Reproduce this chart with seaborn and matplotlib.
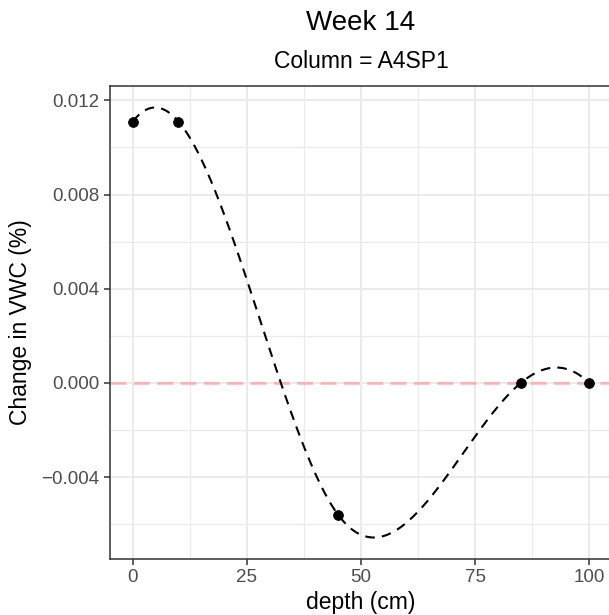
import numpy as np
import pandas as pd
import seaborn as sns
import matplotlib
matplotlib.use("Agg")
import matplotlib.pyplot as plt
from matplotlib.ticker import FixedLocator

####### Data #######
depth = [0, 10, 45, 85, 100]
vwc_change = [0.0111, 0.0111, -0.0056, 0.0, 0.0]

x_ticks = [0, 25, 50, 75, 100]
x_minor = [12.5, 37.5, 62.5, 87.5]
y_ticks = [-0.004, 0.000, 0.004, 0.008, 0.012]
y_minor = [-0.006, -0.002, 0.002, 0.006, 0.010]

title = "Week 14"
subtitle = "Column = A4SP1"


# Spline through the points (fmm end conditions, like R's spline())
def dd3(xs, ys):
    d = list(ys)
    for k in range(1, 4):
        d = [(d[i + 1] - d[i]) / (xs[i + k] - xs[i]) for i in range(len(d) - 1)]
    return d[0]


def fmm_spline(x, y, xout):
    x = np.asarray(x, float)
    y = np.asarray(y, float)
    n = len(x)
    h = np.diff(x)
    d = np.diff(y) / h
    A = np.zeros((n, n))
    b = np.zeros(n)
    for i in range(1, n - 1):
        A[i, i - 1] = h[i - 1]
        A[i, i] = 2 * (h[i - 1] + h[i])
        A[i, i + 1] = h[i]
        b[i] = 6 * (d[i] - d[i - 1])
    A[0, 0], A[0, 1] = -1 / h[0], 1 / h[0]
    b[0] = 6 * dd3(x[:4], y[:4])
    A[-1, -2], A[-1, -1] = -1 / h[-1], 1 / h[-1]
    b[-1] = 6 * dd3(x[-4:], y[-4:])
    M = np.linalg.solve(A, b)
    idx = np.clip(np.searchsorted(x, xout) - 1, 0, n - 2)
    hi = h[idx]
    a = x[idx + 1] - xout
    c = xout - x[idx]
    return (M[idx] * a**3 / (6 * hi) + M[idx + 1] * c**3 / (6 * hi)
            + (y[idx] / hi - M[idx] * hi / 6) * a
            + (y[idx + 1] / hi - M[idx + 1] * hi / 6) * c)


pts = pd.DataFrame({"depth": depth, "change": vwc_change})
xs = np.linspace(min(depth), max(depth), 400)
curve = pd.DataFrame({"depth": xs, "change": fmm_spline(depth, vwc_change, xs)})

####### Plot #######
sns.set_theme(style="white")
plt.rcParams["font.family"] = ["Liberation Sans", "DejaVu Sans"]

fig = plt.figure(figsize=(6.09, 6.15), dpi=100)
ax = fig.add_axes([110 / 609, 56 / 615, 502 / 609, 473 / 615])

ax.axhline(0, color="red", alpha=0.22, linewidth=2.4, linestyle=(0, (4.8, 2.2)), zorder=2)
sns.lineplot(data=curve, x="depth", y="change", ax=ax, color="black",
             linewidth=1.5, linestyle=(0, (4.6, 3.4)), zorder=3)
sns.scatterplot(data=pts, x="depth", y="change", ax=ax, color="black",
                s=50, edgecolor="black", zorder=4)

# ggplot style expansion 5%
lo, hi = curve["change"].min(), curve["change"].max()
pad = (hi - lo) * 0.05
ax.set_xlim(-5, 105)
ax.set_ylim(lo - pad, hi + pad)

ax.xaxis.set_major_locator(FixedLocator(x_ticks))
ax.xaxis.set_minor_locator(FixedLocator(x_minor))
ax.yaxis.set_major_locator(FixedLocator(y_ticks))
ax.yaxis.set_minor_locator(FixedLocator(y_minor))
ax.set_xticklabels([str(v) for v in x_ticks])
ax.set_yticklabels([f"{v:.3f}".replace("-", "\u2212") for v in y_ticks])

ax.grid(which="major", color="#EBEBEB", linewidth=1.4, zorder=0)
ax.grid(which="minor", color="#EBEBEB", linewidth=0.9, zorder=0)
ax.set_axisbelow(True)

for s in ax.spines.values():
    s.set_color("#333333")
    s.set_linewidth(1.1)

ax.tick_params(which="major", length=4.5, width=1.1, color="#333333",
               labelsize=13.5, labelcolor="#4D4D4D", pad=3, bottom=True, left=True)
ax.tick_params(which="minor", length=0)

ax.set_xlabel("depth (cm)", fontsize=16.5, color="black", labelpad=3)
ax.set_ylabel("Change in VWC (%)", fontsize=16.5, color="black", labelpad=7)

fig.text(361 / 609, 1 - 23 / 615, title, ha="center", va="center", fontsize=20, color="black")
fig.text(361 / 609, 1 - 61 / 615, subtitle, ha="center", va="center", fontsize=16.5, color="black")

fig.savefig("out.png", dpi=100)
